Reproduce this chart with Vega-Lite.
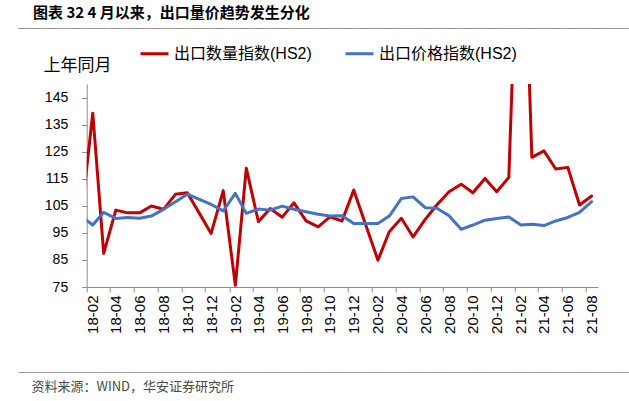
{
  "$schema": "https://vega.github.io/schema/vega-lite/v6.json",
  "width": 511,
  "height": 203,
  "autosize": {"type": "none"},
  "padding": {"left": 86.7, "top": 84, "right": 31.3, "bottom": 114},
  "background": "white",
  "title": {
    "text": "\u200b\u3000图表 32 4 月以来，出口量价趋势发生分化",
    "subtitle": "────────────────────────────────────────────────",
    "font": "Noto Sans CJK SC",
    "fontSize": 15,
    "fontWeight": "bold",
    "color": "#000000",
    "subtitleFont": "Noto Sans CJK SC",
    "subtitleFontSize": 13,
    "subtitleColor": "#404040",
    "subtitlePadding": 2,
    "anchor": "start",
    "frame": "group",
    "orient": "top",
    "offset": 2,
    "dx": -68.7
  },
  "data": {
    "values": [
      {"month": "2018-01-01", "出口数量指数(HS2)": 98.6, "出口价格指数(HS2)": 101.3},
      {"month": "2018-02-01", "出口数量指数(HS2)": 139.2, "出口价格指数(HS2)": 97.9},
      {"month": "2018-03-01", "出口数量指数(HS2)": 87.4, "出口价格指数(HS2)": 102.6},
      {"month": "2018-04-01", "出口数量指数(HS2)": 103.4, "出口价格指数(HS2)": 100.3},
      {"month": "2018-05-01", "出口数量指数(HS2)": 102.4, "出口价格指数(HS2)": 100.7},
      {"month": "2018-06-01", "出口数量指数(HS2)": 102.4, "出口价格指数(HS2)": 100.4},
      {"month": "2018-07-01", "出口数量指数(HS2)": 104.9, "出口价格指数(HS2)": 101.2},
      {"month": "2018-08-01", "出口数量指数(HS2)": 103.7, "出口价格指数(HS2)": 103.7},
      {"month": "2018-09-01", "出口数量指数(HS2)": 109.3, "出口价格指数(HS2)": 106.5},
      {"month": "2018-10-01", "出口数量指数(HS2)": 109.8, "出口价格指数(HS2)": 109.3},
      {"month": "2018-11-01", "出口数量指数(HS2)": 102.2, "出口价格指数(HS2)": 107.4},
      {"month": "2018-12-01", "出口数量指数(HS2)": 94.8, "出口价格指数(HS2)": 105.5},
      {"month": "2019-01-01", "出口数量指数(HS2)": 110.6, "出口价格指数(HS2)": 103.1},
      {"month": "2019-02-01", "出口数量指数(HS2)": 75.6, "出口价格指数(HS2)": 109.6},
      {"month": "2019-03-01", "出口数量指数(HS2)": 118.9, "出口价格指数(HS2)": 102.2},
      {"month": "2019-04-01", "出口数量指数(HS2)": 99.1, "出口价格指数(HS2)": 103.8},
      {"month": "2019-05-01", "出口数量指数(HS2)": 104.0, "出口价格指数(HS2)": 103.4},
      {"month": "2019-06-01", "出口数量指数(HS2)": 100.8, "出口价格指数(HS2)": 104.9},
      {"month": "2019-07-01", "出口数量指数(HS2)": 106.1, "出口价格指数(HS2)": 103.7},
      {"month": "2019-08-01", "出口数量指数(HS2)": 99.4, "出口价格指数(HS2)": 102.8},
      {"month": "2019-09-01", "出口数量指数(HS2)": 97.2, "出口价格指数(HS2)": 101.9},
      {"month": "2019-10-01", "出口数量指数(HS2)": 100.9, "出口价格指数(HS2)": 101.2},
      {"month": "2019-11-01", "出口数量指数(HS2)": 99.4, "出口价格指数(HS2)": 101.3},
      {"month": "2019-12-01", "出口数量指数(HS2)": 110.8, "出口价格指数(HS2)": 98.5},
      {"month": "2020-01-01", "出口数量指数(HS2)": 97.8, "出口价格指数(HS2)": 98.5},
      {"month": "2020-02-01", "出口数量指数(HS2)": 84.9, "出口价格指数(HS2)": 98.5},
      {"month": "2020-03-01", "出口数量指数(HS2)": 95.4, "出口价格指数(HS2)": 101.2},
      {"month": "2020-04-01", "出口数量指数(HS2)": 100.4, "出口价格指数(HS2)": 107.7},
      {"month": "2020-05-01", "出口数量指数(HS2)": 93.5, "出口价格指数(HS2)": 108.3},
      {"month": "2020-06-01", "出口数量指数(HS2)": 100.0, "出口价格指数(HS2)": 104.3},
      {"month": "2020-07-01", "出口数量指数(HS2)": 105.4, "出口价格指数(HS2)": 104.1},
      {"month": "2020-08-01", "出口数量指数(HS2)": 110.2, "出口价格指数(HS2)": 101.3},
      {"month": "2020-09-01", "出口数量指数(HS2)": 113.0, "出口价格指数(HS2)": 96.3},
      {"month": "2020-10-01", "出口数量指数(HS2)": 109.8, "出口价格指数(HS2)": 97.9},
      {"month": "2020-11-01", "出口数量指数(HS2)": 115.1, "出口价格指数(HS2)": 99.7},
      {"month": "2020-12-01", "出口数量指数(HS2)": 110.2, "出口价格指数(HS2)": 100.3},
      {"month": "2021-01-01", "出口数量指数(HS2)": 115.5, "出口价格指数(HS2)": 100.9},
      {"month": "2021-02-01", "出口数量指数(HS2)": 245.0, "出口价格指数(HS2)": 97.9},
      {"month": "2021-03-01", "出口数量指数(HS2)": 122.9, "出口价格指数(HS2)": 98.2},
      {"month": "2021-04-01", "出口数量指数(HS2)": 125.3, "出口价格指数(HS2)": 97.7},
      {"month": "2021-05-01", "出口数量指数(HS2)": 118.6, "出口价格指数(HS2)": 99.4},
      {"month": "2021-06-01", "出口数量指数(HS2)": 119.2, "出口价格指数(HS2)": 100.7},
      {"month": "2021-07-01", "出口数量指数(HS2)": 105.3, "出口价格指数(HS2)": 102.6},
      {"month": "2021-08-01", "出口数量指数(HS2)": 108.6, "出口价格指数(HS2)": 106.5}
    ]
  },
  "transform": [
    {"fold": ["出口数量指数(HS2)", "出口价格指数(HS2)"], "as": ["series", "value"]}
  ],
  "mark": {"type": "line", "clip": true, "strokeWidth": 3, "strokeJoin": "round", "strokeCap": "round"},
  "encoding": {
    "x": {
      "field": "month",
      "type": "temporal",
      "scale": {
        "type": "utc",
        "domain": [
          {"year": 2018, "month": 1, "date": 16, "hours": 12, "utc": true},
          {"year": 2021, "month": 8, "date": 16, "hours": 12, "utc": true}
        ]
      },
      "axis": {
        "values": [
          {"year": 2018, "month": 2, "date": 1, "utc": true},
          {"year": 2018, "month": 4, "date": 1, "utc": true},
          {"year": 2018, "month": 6, "date": 1, "utc": true},
          {"year": 2018, "month": 8, "date": 1, "utc": true},
          {"year": 2018, "month": 10, "date": 1, "utc": true},
          {"year": 2018, "month": 12, "date": 1, "utc": true},
          {"year": 2019, "month": 2, "date": 1, "utc": true},
          {"year": 2019, "month": 4, "date": 1, "utc": true},
          {"year": 2019, "month": 6, "date": 1, "utc": true},
          {"year": 2019, "month": 8, "date": 1, "utc": true},
          {"year": 2019, "month": 10, "date": 1, "utc": true},
          {"year": 2019, "month": 12, "date": 1, "utc": true},
          {"year": 2020, "month": 2, "date": 1, "utc": true},
          {"year": 2020, "month": 4, "date": 1, "utc": true},
          {"year": 2020, "month": 6, "date": 1, "utc": true},
          {"year": 2020, "month": 8, "date": 1, "utc": true},
          {"year": 2020, "month": 10, "date": 1, "utc": true},
          {"year": 2020, "month": 12, "date": 1, "utc": true},
          {"year": 2021, "month": 2, "date": 1, "utc": true},
          {"year": 2021, "month": 4, "date": 1, "utc": true},
          {"year": 2021, "month": 6, "date": 1, "utc": true},
          {"year": 2021, "month": 8, "date": 1, "utc": true}
        ],
        "labelExpr": "utcFormat(datum.value, '%y-%m')",
        "labelAngle": 270,
        "labelAlign": "right",
        "labelBaseline": "middle",
        "labelFont": "Liberation Sans",
        "labelFontSize": 15,
        "labelColor": "#000000",
        "labelPadding": 3,
        "labelOverlap": false,
        "tickOffset": -6,
        "labelOffset": 6,
        "tickSize": 5,
        "tickColor": "#8c8c8c",
        "domainColor": "#8c8c8c",
        "grid": false,
        "title": ["────────────────────────────────────────────────", "\u200b\u3000资料来源：WIND，华安证券研究所"],
        "titleFont": "Noto Sans CJK SC",
        "titleFontSize": 13,
        "titleFontWeight": "normal",
        "titleColor": "#4a4a4a",
        "titleAlign": "left",
        "titleBaseline": "top",
        "titleLineHeight": 14,
        "titleX": -68.7,
        "titleY": 79,
        "titleAngle": 0
      }
    },
    "y": {
      "field": "value",
      "type": "quantitative",
      "scale": {"domain": [75, 150], "nice": false, "zero": false},
      "axis": {
        "values": [75, 85, 95, 105, 115, 125, 135, 145],
        "labelFont": "Liberation Sans",
        "labelFontSize": 14,
        "labelColor": "#000000",
        "labelPadding": 14,
        "tickSize": 5,
        "tickColor": "#8c8c8c",
        "domainColor": "#8c8c8c",
        "grid": false,
        "title": "上年同月",
        "titleFont": "Noto Sans CJK SC",
        "titleFontSize": 17,
        "titleFontWeight": "normal",
        "titleColor": "#000000",
        "titleAngle": 0,
        "titleAlign": "left",
        "titleBaseline": "middle",
        "titleX": -43.7,
        "titleY": -19
      }
    },
    "color": {
      "field": "series",
      "type": "nominal",
      "scale": {
        "domain": ["出口数量指数(HS2)", "出口价格指数(HS2)"],
        "range": ["#C00000", "#4472C4"]
      },
      "legend": {
        "orient": "none",
        "legendX": 52.3,
        "legendY": -46,
        "direction": "horizontal",
        "title": null,
        "symbolType": "stroke",
        "symbolSize": 784,
        "symbolStrokeWidth": 3,
        "labelFont": "Liberation Sans, Noto Sans CJK SC",
        "labelFontSize": 16,
        "labelColor": "#000000",
        "labelOffset": 4,
        "columnPadding": 27,
        "padding": 0
      }
    }
  },
  "config": {"view": {"stroke": null}}
}
